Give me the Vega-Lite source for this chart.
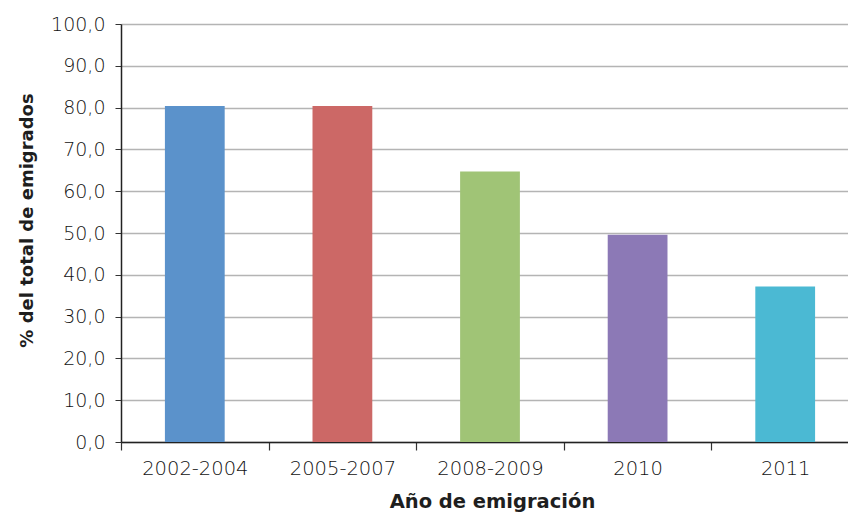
{
  "$schema": "https://vega.github.io/schema/vega-lite/v6.json",
  "width": 727,
  "height": 418,
  "autosize": "none",
  "padding": {"left": 121, "top": 24, "right": 0, "bottom": 71},
  "background": "white",
  "data": {
    "values": [
      {"periodo": "2002-2004", "valor": 80.4},
      {"periodo": "2005-2007", "valor": 80.4},
      {"periodo": "2008-2009", "valor": 64.7},
      {"periodo": "2010", "valor": 49.6},
      {"periodo": "2011", "valor": 37.2}
    ]
  },
  "config": {
    "view": {"stroke": null}
  },
  "mark": {"type": "bar"},
  "encoding": {
    "x": {
      "field": "periodo",
      "type": "nominal",
      "sort": null,
      "scale": {"range": [0, 738], "paddingInner": 0.595, "paddingOuter": 0.2975},
      "axis": {
        "title": "Año de emigración",
        "titleFont": "DejaVu Sans",
        "titleFontWeight": "bold",
        "titleFontSize": 19.5,
        "titleColor": "#1e1e1e",
        "titlePadding": 15,
        "titleX": 371,
        "labelFont": "DejaVu Sans",
        "labelFontWeight": 300,
        "labelFontSize": 19.5,
        "labelColor": "#111111",
        "labelAngle": 0,
        "labelPadding": 9,
        "labelOffset": 73.8,
        "tickOffset": -73.8,
        "tickSize": 8,
        "tickColor": "#333333",
        "tickWidth": 1.2,
        "domainColor": "#222222",
        "domainWidth": 1.5,
        "grid": false
      }
    },
    "y": {
      "field": "valor",
      "type": "quantitative",
      "scale": {"domain": [0, 100], "nice": false},
      "axis": {
        "title": "% del total de emigrados",
        "titleFont": "DejaVu Sans",
        "titleFontWeight": "bold",
        "titleFontSize": 18,
        "titleColor": "#1e1e1e",
        "titlePadding": 14,
        "titleY": 196,
        "values": [0, 10, 20, 30, 40, 50, 60, 70, 80, 90, 100],
        "labelExpr": "replace(format(datum.value, '.1f'), '.', ',')",
        "labelFont": "DejaVu Sans",
        "labelFontWeight": 300,
        "labelFontSize": 19,
        "labelColor": "#111111",
        "labelPadding": 10,
        "tickSize": 6,
        "tickColor": "#333333",
        "domainColor": "#222222",
        "domainWidth": 1.5,
        "grid": true,
        "gridColor": "#b4b4b4",
        "gridWidth": 1.5
      }
    },
    "color": {
      "field": "periodo",
      "type": "nominal",
      "sort": null,
      "scale": {"range": ["#5B92CB", "#CC6866", "#A0C476", "#8C79B6", "#4BB9D3"]},
      "legend": null
    }
  }
}
